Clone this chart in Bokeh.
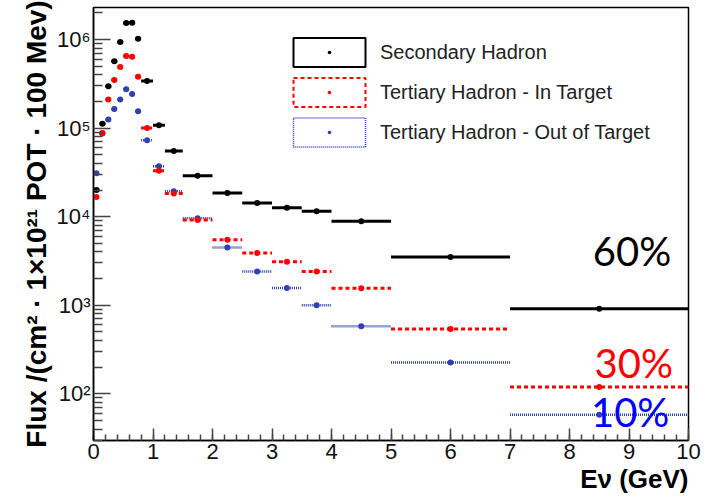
import numpy as np
from bokeh.plotting import figure
from bokeh.models import (Range1d, ColumnDataSource, Legend, LegendItem, Label, Title,
                          SingleIntervalTicker, FixedTicker, CustomJSTickFormatter)
from bokeh.embed import file_html
from bokeh.resources import INLINE

# ---- data ----
bin_lo = [0.0, 0.1, 0.2, 0.3, 0.4, 0.5, 0.6, 0.7, 0.8, 1.0, 1.2, 1.5, 2.0, 2.5, 3.0, 3.5, 4.0, 5.0, 7.0]
bin_hi = [0.1, 0.2, 0.3, 0.4, 0.5, 0.6, 0.7, 0.8, 1.0, 1.2, 1.5, 2.0, 2.5, 3.0, 3.5, 4.0, 5.0, 7.0, 10.0]
secondary = [2.0e4, 1.12e5, 2.97e5, 5.7e5, 9.4e5, 1.54e6, 1.55e6, 1.02e6, 3.4e5, 1.08e5,
             5.5e4, 2.9e4, 1.85e4, 1.43e4, 1.26e4, 1.15e4, 8.9e3, 3.5e3, 9.1e2]
tertiary_in = [1.67e4, 8.8e4, 2.1e5, 3.5e5, 4.9e5, 6.5e5, 6.4e5, 3.8e5, 1.0e5, 3.3e4,
               1.83e4, 9.2e3, 5.5e3, 3.9e3, 3.1e3, 2.4e3, 1.56e3, 5.4e2, 1.19e2]
tertiary_out = [3.1e4, 8.7e4, 1.25e5, 1.64e5, 2.1e5, 2.74e5, 2.43e5, 1.55e5, 7.3e4, 3.7e4,
                1.94e4, 9.6e3, 4.5e3, 2.4e3, 1.57e3, 1.0e3, 5.8e2, 2.26e2, 58]
series_names = ["Secondary Hadron", "Tertiary Hadron - In Target", "Tertiary Hadron - Out of Target"]
shares = ["60%", "30%", "10%"]
y_major = [1e2, 1e3, 1e4, 1e5, 1e6]

BLACK = "black"
RED = "#ff0000"
BLUE = "#3040b0"

mid = [(a + b) / 2 for a, b in zip(bin_lo, bin_hi)]
src = ColumnDataSource(dict(lo=bin_lo, hi=bin_hi, mid=mid,
                            sec=secondary, tin=tertiary_in, tout=tertiary_out))

p = figure(width=709, height=497, x_range=Range1d(0, 10), y_range=Range1d(29.7, 2.3e6),
           y_axis_type="log", output_backend="svg", toolbar_location=None,
           min_border_left=93, min_border_right=21, min_border_top=7, min_border_bottom=57)
p.xgrid.visible = False
p.ygrid.visible = False
p.outline_line_color = "black"
p.outline_line_width = 1.5
p.background_fill_color = "white"
p.border_fill_color = "white"

# axes
p.xaxis.ticker = SingleIntervalTicker(interval=1, num_minor_ticks=5)
y_minor = [m * 10.0 ** e for e in range(1, 7) for m in range(2, 10)]
p.yaxis.ticker = FixedTicker(ticks=y_major, minor_ticks=y_minor)
p.yaxis.formatter = CustomJSTickFormatter(code="""
const sup = {"0":"\u2070","1":"\u00b9","2":"\u00b2","3":"\u00b3","4":"\u2074",
             "5":"\u2075","6":"\u2076","7":"\u2077","8":"\u2078","9":"\u2079","-":"\u207b"};
const e = Math.round(Math.log10(tick));
return "10" + String(e).split("").map(c => sup[c]).join("");
""")
for ax in (p.xaxis[0], p.yaxis[0]):
    ax.axis_line_color = "black"
    ax.axis_line_width = 1.5
    ax.major_tick_out = 0
    ax.minor_tick_out = 0
    ax.major_tick_line_color = "#444444"
    ax.minor_tick_line_color = "#444444"
    ax.major_tick_line_width = 1.5
    ax.minor_tick_line_width = 1.5
    ax.major_label_text_font = "Liberation Sans"
    ax.major_label_text_font_size = "22px"
    ax.major_label_text_color = "#111111"
    ax.major_label_standoff = 3
p.xaxis.major_tick_in = 12
p.xaxis.minor_tick_in = 6
p.yaxis.major_tick_in = 17
p.yaxis.minor_tick_in = 9
p.yaxis.axis_label = "Flux /(cm\u00b2 \u00b7 1\u00d710\u00b2\u00b9 POT \u00b7 100 Mev)"
p.yaxis.axis_label_text_font = "Liberation Sans"
p.yaxis.axis_label_text_font_style = "bold"
p.yaxis.axis_label_text_font_size = "28px"
p.yaxis.axis_label_text_color = "black"
p.yaxis.axis_label_standoff = 2

# x-axis title, right aligned below the axis
p.add_layout(Title(text="E\u03bd (GeV)", align="right", text_font="Liberation Sans",
                   text_font_style="bold", text_font_size="26px", text_color="black",
                   standoff=0), "below")

# series: horizontal bin-width bars + dots
p.segment(x0="lo", x1="hi", y0="tout", y1="tout", source=src,
          line_color=BLUE, line_width=2.5, line_dash="1 1")
p.segment(x0="lo", x1="hi", y0="tin", y1="tin", source=src,
          line_color=RED, line_width=3, line_dash="4 3")
p.segment(x0="lo", x1="hi", y0="sec", y1="sec", source=src,
          line_color=BLACK, line_width=3)
dot_out = p.scatter("mid", "tout", source=src, marker="dot", size=24, line_color=BLUE)
dot_in = p.scatter("mid", "tin", source=src, marker="dot", size=24, line_color=RED)
dot_sec = p.scatter("mid", "sec", source=src, marker="dot", size=24, line_color=BLACK)

# legend-only boxes (ROOT style outlined rectangles)
nan_src = ColumnDataSource(dict(l=[np.nan], r=[np.nan], t=[np.nan], b=[np.nan]))
box_sec = p.quad(left="l", right="r", top="t", bottom="b", source=nan_src,
                 fill_color=None, line_color=BLACK, line_width=2)
box_in = p.quad(left="l", right="r", top="t", bottom="b", source=nan_src,
                fill_color=None, line_color=RED, line_width=2, line_dash="4 3")
box_out = p.quad(left="l", right="r", top="t", bottom="b", source=nan_src,
                 fill_color=None, line_color=BLUE, line_width=1.5, line_dash="1 1")

legend = Legend(items=[
    LegendItem(label=series_names[0], renderers=[box_sec, dot_sec]),
    LegendItem(label=series_names[1], renderers=[box_in, dot_in]),
    LegendItem(label=series_names[2], renderers=[box_out, dot_out]),
], location=(191, 290), glyph_width=90, glyph_height=36, spacing=4, padding=0, margin=0,
   label_standoff=6, label_text_font="Liberation Sans", label_text_font_size="20px",
   label_text_color="#222222", border_line_alpha=0, background_fill_alpha=0)
p.add_layout(legend)

# share annotations
for txt, xx, yy, col in [(shares[0], 9.05, 10 ** 3.61, "black"),
                         (shares[1], 9.08, 10 ** 2.35, "#ff0000"),
                         (shares[2], 9.02, 10 ** 1.79, "#0000ff")]:
    p.add_layout(Label(x=xx, y=yy, text=txt, text_font="Lato", text_font_size="40px",
                       text_align="center", text_baseline="alphabetic", text_color=col))

open("out.html", "w").write(file_html(p, INLINE))
